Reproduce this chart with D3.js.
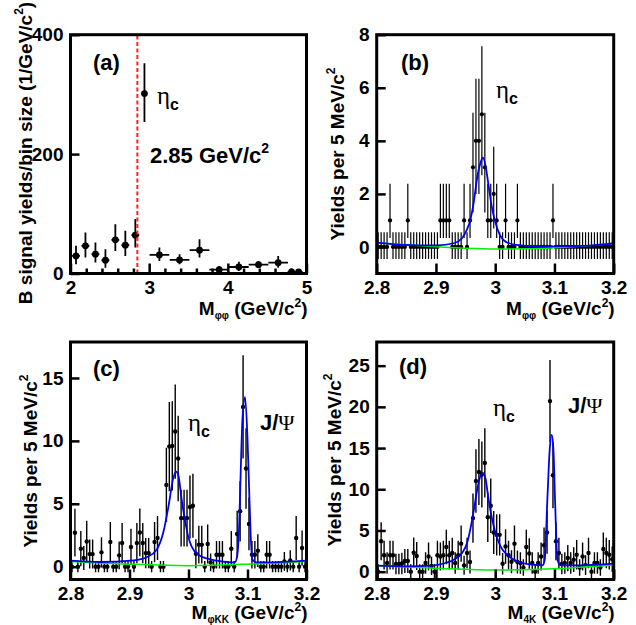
<!DOCTYPE html>
<html><head><meta charset="utf-8">
<script src="https://cdn.jsdelivr.net/npm/d3@7"></script>
<style>body{margin:0;background:#fff}svg{display:block}</style>
</head><body><svg id="chart" width="636" height="625"></svg>
<script>
// ---------------- DATA ----------------
// Panel (a): B signal yields / bin size vs M(phi phi)
const aX     = [2.07, 2.19, 2.317, 2.444, 2.57, 2.697, 2.824, 2.94, 3.13, 3.386, 3.64, 3.89, 4.14, 4.39, 4.64, 4.81, 4.9];
const aY     = [29.4, 46.3, 32.3, 22.2, 56.4, 47.4, 64.2, 301.4, 31.1, 22.7, 39, 6.4, 10.9, 14.8, 18.2, 2.5, 2.5];
const aErrHi = [17, 22.4, 19.5, 18.5, 26.3, 24, 27, 50.6, 12.3, 9.6, 18.5, 6.2, 8.9, 6.2, 11.2, 3, 3];
const aErrLo = [14, 19.7, 14, 12.4, 18.6, 18, 20.8, 47.7, 10, 7.2, 12.4, 5, 6.7, 5, 8.4, 3, 3];
const aXErr  = [0.05, 0.05, 0.05, 0.05, 0.05, 0.05, 0.05, 0.03, 0.125, 0.125, 0.125, 0.125, 0.125, 0.125, 0.125, 0.05, 0.05];
const aXTicks = [2, 3, 4, 5], aXTickLabels = ["2", "3", "4", "5"];
const aXMinor = [2.2, 2.4, 2.6, 2.8, 3.2, 3.4, 3.6, 3.8, 4.2, 4.4, 4.6, 4.8];
const aYTicks = [0, 200, 400], aYTickLabels = ["0", "200", "400"];
const aCut = 2.85;

// Histogram binning shared by (b), (c), (d): 5 MeV bins from 2.8 GeV
const BIN_START = 2.8, BIN_WIDTH = 0.005, N_BINS = 80;
const mTicks = [2.8, 2.9, 3.0, 3.1, 3.2], mTickLabels = ["2.8", "2.9", "3", "3.1", "3.2"];

// Panel (b): M(phi phi)
const bVals = [0,0,0,0,1,0,0,0,0,0, 1,0,0,0,0,0,0,0,0,0, 0,1,1,1,1,0,0,0,0,1, 0,1,3,4,4,5,3,1,1,2,
               1,0,0,1,0,0,0,1,0,0, 0,0,0,0,0,0,0,0,0,1, 0,0,0,0,0,0,0,0,0,0, 0,0,0,0,0,0,0,0,0,0];
const bErrLo = [.45,.45,.45,.45,.66,.45,.45,.45,.45,.45, .66,.45,.45,.45,.45,.45,.45,.45,.45,.45,
                .45,.66,.66,.66,.66,.45,.45,.45,.45,.66, .45,.66,1.7,2.0,2.0,2.3,1.7,.66,.66,1.3,
                .66,.45,.45,.66,.45,.45,.45,.66,.45,.45, .45,.45,.45,.45,.45,.45,.45,.45,.45,.66,
                .45,.45,.45,.45,.45,.45,.45,.45,.45,.45, .45,.45,.45,.45,.45,.45,.45,.45,.45,.45];
const bErrHi = [.55,.55,.55,.55,1.38,.55,.55,.55,.55,.55, 1.38,.55,.55,.55,.55,.55,.55,.55,.55,.55,
                .55,1.38,1.38,1.38,1.38,.55,.55,.55,.55,1.38, .55,1.38,2.06,2.34,2.34,2.56,2.06,1.38,1.38,1.78,
                1.38,.55,.55,1.38,.55,.55,.55,1.38,.55,.55, .55,.55,.55,.55,.55,.55,.55,.55,.55,1.38,
                .55,.55,.55,.55,.55,.55,.55,.55,.55,.55, .55,.55,.55,.55,.55,.55,.55,.55,.55,.55];
const bYTicks = [0, 2, 4, 6, 8], bYTickLabels = ["0", "2", "4", "6", "8"];
const bFitX = [2.8, 2.846, 2.902, 2.93, 2.944, 2.952, 2.958, 2.9636, 2.969, 2.975, 2.9793, 2.984, 2.989, 2.994, 3.0, 3.008, 3.02, 3.036, 3.076, 3.104, 3.16, 3.2];
const bFitY = [0.16, 0.08, 0.06, 0.14, 0.33, 0.64, 1.02, 1.65, 2.53, 3.16, 3.37, 3.03, 2.28, 1.55, 0.95, 0.45, 0.17, 0.08, 0.02, 0.02, 0.05, 0.14];
const bBkgX = [2.8, 2.85, 2.9, 2.95, 3.0, 3.05, 3.1, 3.15, 3.2];
const bBkgY = [0.16, 0.08, 0.01, -0.05, -0.08, -0.07, -0.03, 0.04, 0.13];

// Panel (c): M(phi K K)
const cVals = [0,2.7,0,1.43,0.69,2.0,1.0,1.0,0,0, 1.14,0,0,1.96,0,0,0.9,1.88,0,0,
               1.56,0,1.88,2.72,1.88,1.08,1.08,0,1.96,2.28, 0,0,6.5,9.55,9.6,10.74,8.6,3.86,3.86,3.86,
               4.74,4.84,1.03,1.75,1.75,0,1.8,0.34,0,0.95, 0.95,0.95,0,0,1.43,0,2.6,4.4,12.7,7.8,
               3.4,0.95,0.95,1.27,0,0,0.95,0.95,0,0, 0,0,0.42,0,0.5,0,2.28,0,1.48,0];
const cErr  = [0.45,1.9,0.45,1.4,0.95,1.65,1.15,1.15,0.45,0.45, 1.2,0.45,0.45,1.6,0.45,0.45,1.1,1.6,0.45,0.45,
               1.45,0.45,1.6,1.9,1.6,1.2,1.2,0.45,1.6,1.75, 0.45,0.45,2.95,3.55,3.55,3.75,3.4,2.25,2.25,2.25,
               2.5,2.55,1.15,1.5,1.5,0.45,1.55,0.7,0.45,1.1, 1.1,1.1,0.45,0.45,1.4,0.45,1.85,2.4,4.1,3.2,
               2.1,1.1,1.1,1.3,0.45,0.45,1.1,1.1,0.45,0.45, 0.45,0.45,0.75,0.45,0.8,0.45,1.75,0.45,1.4,0.45];
const cYTicks = [0, 5, 10, 15], cYTickLabels = ["0", "5", "10", "15"];
const cFitX = [2.8, 2.85, 2.907, 2.93, 2.946, 2.957, 2.966, 2.974, 2.979, 2.983, 2.9885, 2.994, 3.0, 3.0054, 3.0167, 3.039, 3.067, 3.0785, 3.0824, 3.0858, 3.0886, 3.0914, 3.0959, 3.0999, 3.1026, 3.1055, 3.1083, 3.115, 3.132, 3.2];
const cFitY = [0.48, 0.37, 0.5, 0.77, 1.35, 2.67, 4.78, 7.0, 7.56, 7.2, 5.3, 3.7, 2.3, 1.6, 0.95, 0.56, 0.37, 0.34, 0.82, 3.2, 7.7, 11.67, 13.47, 10.3, 6.4, 2.4, 0.56, 0.34, 0.34, 0.48];
const cBkgX = [2.8, 2.9, 3.0, 3.1, 3.2];
const cBkgY = [0.42, 0.2, 0.08, 0.2, 0.42];

// Panel (d): M(4K)
const dVals = [0,3.7,2.0,1.05,2.0,2.0,0.93,0.93,1.0,1.3, 1.3,0,2.3,1.9,0,0,1.05,1.85,0.7,0,
               2.0,1.85,2.0,3.0,2.0,2.26,1.05,2.0,3.4,0.77, 2.26,1.17,6.5,11.0,12.1,11.8,13.2,6.6,8.0,4.75,
               4.47,4.47,0.97,3.06,2.0,1.2,3.4,1.17,1.05,0.5, 3.0,2.2,1.05,0,1.05,1.85,3.2,4.76,20.7,11.7,
               3.7,2.26,0.93,1.05,1.65,1.05,1.45,2.05,0.5,1.85, 0.8,2.26,0,1.05,1.05,0.5,2.75,2.26,2.05,1.5];
const dErr  = [0.9,2.3,1.75,1.3,1.75,1.75,1.25,1.25,1.3,1.45, 1.45,0.9,1.85,1.7,0.9,0.9,1.3,1.7,1.1,0.9,
               1.75,1.7,1.75,2.1,1.75,1.85,1.3,1.75,2.2,1.15, 1.85,1.4,3.0,3.85,4.0,4.0,4.2,3.0,3.3,2.6,
               2.5,2.5,1.3,2.1,1.75,1.4,2.2,1.4,1.3,1.0, 2.1,1.85,1.3,0.9,1.3,1.7,2.15,2.6,5.0,4.0,
               2.3,1.85,1.25,1.3,1.6,1.3,1.5,1.8,1.0,1.7, 1.2,1.85,0.9,1.3,1.3,1.0,2.0,1.85,1.8,1.55];
const dYTicks = [0, 5, 10, 15, 20, 25], dYTickLabels = ["0", "5", "10", "15", "20", "25"];
const dFitX = [2.8, 2.848, 2.893, 2.916, 2.933, 2.944, 2.9525, 2.959, 2.964, 2.9695, 2.975, 2.9797, 2.9836, 2.989, 2.995, 3.0005, 3.009, 3.023, 3.04, 3.0627, 3.0797, 3.0836, 3.088, 3.092, 3.0954, 3.0983, 3.101, 3.105, 3.1107, 3.142, 3.2];
const dFitY = [0.73, 0.65, 0.73, 1.05, 1.57, 2.26, 3.47, 5.5, 7.5, 9.9, 11.6, 11.95, 11.3, 8.7, 6.3, 4.7, 3.06, 1.85, 1.17, 0.85, 0.77, 1.45, 8.7, 14.8, 16.6, 14.8, 8.7, 1.45, 0.77, 0.77, 0.98];
const dBkgX = [2.8, 2.9, 3.0, 3.1, 3.2];
const dBkgY = [0.73, 0.42, 0.2, 0.35, 0.8];

// ---------------- DRAWING ----------------
const SANS = '"Liberation Sans", Arial, Helvetica, sans-serif';
const SERIF = '"Liberation Serif", "Times New Roman", serif';
const BLUE = "#0000f0", GREEN = "#00ee00";
const svg = d3.select("#chart");

const layout = {
  a: {left: 70.5,  right: 306.5, top: 34.7, bottom: 273.5, xDomain: [2, 5],     yDomain: [0, 400]},
  b: {left: 376.7, right: 613.7, top: 34.7, bottom: 273.5, xDomain: [2.8, 3.2], yDomain: [-1, 8]},
  c: {left: 70.5,  right: 306.5, top: 342,  bottom: 579.5, xDomain: [2.8, 3.2], yDomain: [-1.02, 17.86]},
  d: {left: 376.7, right: 613.7, top: 342,  bottom: 579.5, xDomain: [2.8, 3.2], yDomain: [-0.95, 27.87]}
};

function makePanel(name) {
  const cfg = layout[name];
  const g = svg.append("g").attr("class", "panel-" + name);
  const x = d3.scaleLinear().domain(cfg.xDomain).range([cfg.left, cfg.right]);
  const y = d3.scaleLinear().domain(cfg.yDomain).range([cfg.bottom, cfg.top]);
  svg.append("clipPath").attr("id", "clip-" + name).append("rect")
    .attr("x", cfg.left).attr("y", cfg.top)
    .attr("width", cfg.right - cfg.left).attr("height", cfg.bottom - cfg.top);
  const plot = g.append("g").attr("clip-path", "url(#clip-" + name + ")");
  return {cfg, g, plot, x, y};
}

function drawPoints(P, xs, ys, lo, hi, xe, r, lw) {
  const pts = xs.map((xv, i) => ({x: xv, y: ys[i], lo: lo[i], hi: hi[i], xe: xe[i]}));
  const gp = P.plot.append("g");
  gp.selectAll("line.ey").data(pts).enter().append("line").attr("class", "ey")
    .attr("x1", d => P.x(d.x)).attr("x2", d => P.x(d.x))
    .attr("y1", d => P.y(d.y - d.lo)).attr("y2", d => P.y(d.y + d.hi))
    .attr("stroke", "#000").attr("stroke-width", lw);
  gp.selectAll("line.ex").data(pts).enter().append("line").attr("class", "ex")
    .attr("x1", d => P.x(d.x - d.xe)).attr("x2", d => P.x(d.x + d.xe))
    .attr("y1", d => P.y(d.y)).attr("y2", d => P.y(d.y))
    .attr("stroke", "#000").attr("stroke-width", lw);
  gp.selectAll("circle").data(pts).enter().append("circle")
    .attr("cx", d => P.x(d.x)).attr("cy", d => P.y(d.y)).attr("r", r).attr("fill", "#000");
}

function drawCurve(P, xs, ys, color, w) {
  const line = d3.line().x(d => P.x(d[0])).y(d => P.y(d[1])).curve(d3.curveMonotoneX);
  P.plot.append("path").datum(xs.map((v, i) => [v, ys[i]]))
    .attr("d", line).attr("fill", "none").attr("stroke", color).attr("stroke-width", w);
}

function styleAxis(gax) {
  gax.attr("font-family", SANS).attr("font-size", 19).attr("font-weight", "bold");
  gax.select(".domain").remove();
  gax.selectAll("line").attr("stroke", "#000").attr("stroke-width", 2.5);
  gax.selectAll("text").attr("fill", "#000");
}

function drawAxes(P, xt, xl, yt, yl, xMinor) {
  const cfg = P.cfg;
  const gx = P.g.append("g").attr("transform", `translate(0,${cfg.bottom})`)
    .call(d3.axisBottom(P.x).tickValues(xt).tickSize(-10).tickPadding(7).tickFormat((d, i) => xl[i]));
  styleAxis(gx);
  if (xMinor) {
    const gm = P.g.append("g").attr("transform", `translate(0,${cfg.bottom})`)
      .call(d3.axisBottom(P.x).tickValues(xMinor).tickSize(-5).tickFormat(""));
    styleAxis(gm);
  }
  const gy = P.g.append("g").attr("transform", `translate(${cfg.left},0)`)
    .call(d3.axisLeft(P.y).tickValues(yt).tickSize(-9).tickPadding(7).tickFormat((d, i) => yl[i]));
  styleAxis(gy);
  P.g.append("rect").attr("x", cfg.left).attr("y", cfg.top)
    .attr("width", cfg.right - cfg.left).attr("height", cfg.bottom - cfg.top)
    .attr("fill", "none").attr("stroke", "#000").attr("stroke-width", 3);
}

function xLabel(P, sub, y) {
  const t = P.g.append("text").attr("x", P.cfg.right + 1).attr("y", y).attr("text-anchor", "end")
    .attr("font-family", SANS).attr("font-weight", "bold").attr("font-size", 19);
  t.append("tspan").text("M");
  t.append("tspan").attr("font-size", 10).attr("dy", 4).text(sub);
  t.append("tspan").attr("dy", -4).text(" (GeV/c");
  t.append("tspan").attr("font-size", 12).attr("dy", -8).text("2");
  t.append("tspan").attr("dy", 8).text(")");
}

function yLabel(P, txt, x, y) {
  const t = P.g.append("text").attr("transform", `translate(${x},${y}) rotate(-90)`)
    .attr("text-anchor", "middle").attr("font-family", SANS).attr("font-weight", "bold").attr("font-size", 19);
  t.append("tspan").text(txt);
  t.append("tspan").attr("font-size", 12).attr("dy", -9).text("2");
  if (txt.endsWith("(1/GeV/c")) t.append("tspan").attr("dy", 9).text(")");
}

function label(P, txt, x, y, size) {
  P.g.append("text").attr("x", x).attr("y", y).attr("font-family", SANS)
    .attr("font-weight", "bold").attr("font-size", size || 22).text(txt);
}

function etaC(P, x, y) {
  const t = P.g.append("text").attr("x", x).attr("y", y);
  t.append("tspan").attr("font-family", SERIF).attr("font-size", 25).text("η");
  t.append("tspan").attr("font-family", SANS).attr("font-weight", "bold").attr("font-size", 16).attr("dy", 6).text("c");
}

function jpsi(P, x, y) {
  const t = P.g.append("text").attr("x", x).attr("y", y).attr("font-size", 22);
  t.append("tspan").attr("font-family", SANS).attr("font-weight", "bold").text("J/");
  t.append("tspan").attr("font-family", SERIF).text("Ψ");
}

const binCenters = d3.range(N_BINS).map(i => BIN_START + BIN_WIDTH * (i + 0.5));
const halfBin = binCenters.map(() => BIN_WIDTH / 2);

// ----- (a)
const A = makePanel("a");
drawPoints(A, aX, aY, aErrLo, aErrHi, aXErr, 3.4, 1.8);
A.plot.append("line").attr("x1", A.x(aCut)).attr("x2", A.x(aCut))
  .attr("y1", A.y(A.cfg.yDomain[0])).attr("y2", A.y(A.cfg.yDomain[1]))
  .attr("stroke", "#ff2222").attr("stroke-width", 2).attr("stroke-dasharray", "4,2.5");
drawAxes(A, aXTicks, aXTickLabels, aYTicks, aYTickLabels, aXMinor);
label(A, "(a)", 93, 70);
etaC(A, 157, 104);
{
  const t = A.g.append("text").attr("x", 150).attr("y", 163).attr("font-family", SANS)
    .attr("font-weight", "bold").attr("font-size", 22);
  t.append("tspan").text("2.85 GeV/c");
  t.append("tspan").attr("font-size", 14).attr("dy", -10).text("2");
}
xLabel(A, "φφ", 315);
yLabel(A, "B signal yields/bin size (1/GeV/c", 32, 153);

// ----- (b)
const B = makePanel("b");
drawPoints(B, binCenters, bVals, bErrLo, bErrHi, halfBin, 2.1, 1.2);
drawCurve(B, bBkgX, bBkgY, GREEN, 1.5);
drawCurve(B, bFitX, bFitY, BLUE, 1.8);
drawAxes(B, mTicks, mTickLabels, bYTicks, bYTickLabels);
label(B, "(b)", 401, 70);
etaC(B, 496, 98);
xLabel(B, "φφ", 315);
yLabel(B, "Yields per 5 MeV/c", 344, 154);

// ----- (c)
const C = makePanel("c");
drawPoints(C, binCenters, cVals, cErr, cErr, halfBin, 2.2, 1.4);
drawCurve(C, cBkgX, cBkgY, GREEN, 1.5);
drawCurve(C, cFitX, cFitY, BLUE, 1.8);
drawAxes(C, mTicks, mTickLabels, cYTicks, cYTickLabels);
label(C, "(c)", 93, 376);
etaC(C, 188, 431);
jpsi(C, 260, 430);
xLabel(C, "φKK", 619);
yLabel(C, "Yields per 5 MeV/c", 37, 461);

// ----- (d)
const D = makePanel("d");
drawPoints(D, binCenters, dVals, dErr, dErr, halfBin, 2.2, 1.4);
drawCurve(D, dBkgX, dBkgY, GREEN, 1.5);
drawCurve(D, dFitX, dFitY, BLUE, 1.8);
drawAxes(D, mTicks, mTickLabels, dYTicks, dYTickLabels);
label(D, "(d)", 399, 374);
etaC(D, 493, 416);
jpsi(D, 568, 413);
xLabel(D, "4K", 619);
yLabel(D, "Yields per 5 MeV/c", 341, 460);
</script>
</body></html>
